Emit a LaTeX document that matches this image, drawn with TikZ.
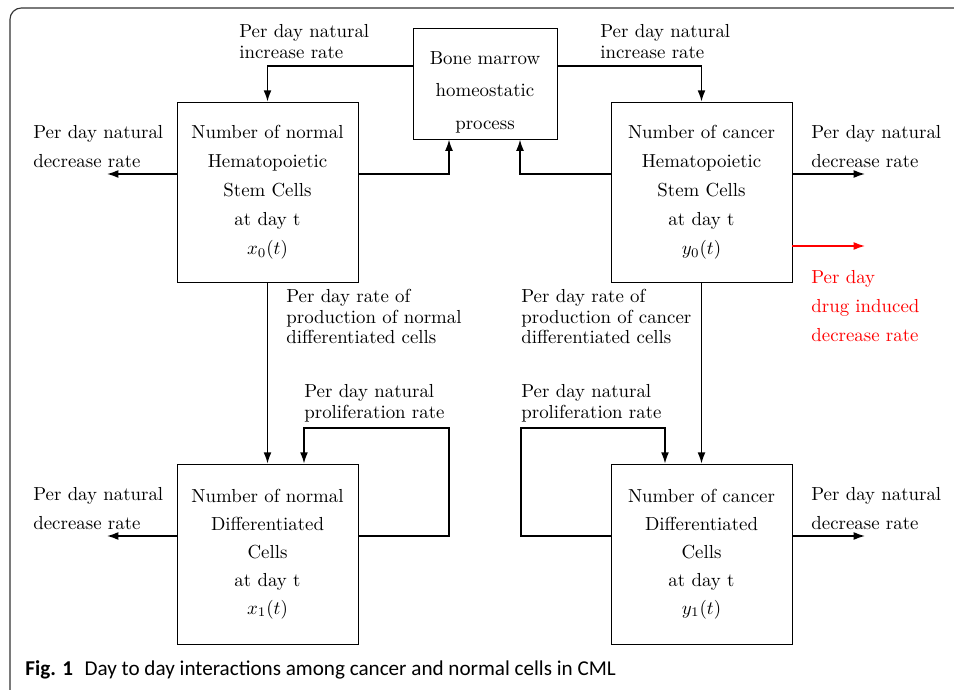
\documentclass[tikz,border=0pt]{standalone}
\usepackage{fontspec}
\newfontfamily\capfont{Carlito}
\usetikzlibrary{arrows.meta,positioning,calc}

\begin{document}
\begin{tikzpicture}[x=0.53pt,y=-0.53pt,
    cellbox/.style={draw,thin,align=center,minimum width=95.9pt,minimum height=95.4pt,font=\fontsize{10pt}{15.4pt}\selectfont},
    tight/.style={align=left,inner sep=0pt,anchor=west,font=\fontsize{10pt}{11.1pt}\selectfont},
    loose/.style={align=left,inner sep=0pt,anchor=west,font=\fontsize{10pt}{15.4pt}\selectfont},
    flow/.style={-{Latex[length=6pt,width=4.2pt]},line width=0.8pt}]
  \useasboundingbox (0,0) rectangle (954,690);
  % frame
  \draw[line width=0.6pt,black!80,rounded corners=6pt] (10,690) -- (10,8) -- (954,8);

  % boxes
  \node[draw,thin,align=center,minimum width=76.3pt,minimum height=57.2pt,font=\fontsize{10pt}{17.2pt}\selectfont] (bm) at (485,84) {\rule{0pt}{15.5pt}Bone marrow\\homeostatic\\process};
  \node[cellbox] (nhsc) at (267.5,192) {Number of normal\\Hematopoietic\\Stem Cells\\at day t\\$x_0(t)$};
  \node[cellbox] (chsc) at (701.5,192) {Number of cancer\\Hematopoietic\\Stem Cells\\at day t\\$y_0(t)$};
  \node[cellbox,font=\fontsize{10pt}{14.8pt}\selectfont] (ndc) at (267.5,554) {Number of normal\\Differentiated\\Cells\\at day t\\$x_1(t)$};
  \node[cellbox,font=\fontsize{10pt}{14.8pt}\selectfont] (cdc) at (701.5,554) {Number of cancer\\Differentiated\\Cells\\at day t\\$y_1(t)$};

  % free ends
  \coordinate (nhscout) at (107,174);
  \coordinate (chscout) at (865,174);
  \coordinate (drugout) at (865,246);
  \coordinate (ndcout) at (107,536);
  \coordinate (cdcout) at (865,536);

  % connectors
  \draw[flow] (bm.west |- 0,66) -| (nhsc.north);
  \draw[flow] (bm.east |- 0,66) -| (chsc.north);
  \draw[flow] (nhsc.east |- 0,174) -| (bm.south -| 449,0);
  \draw[flow] (chsc.west |- 0,174) -| (bm.south -| 520,0);
  \draw[flow] (nhsc.west |- 0,174) -- (nhscout);
  \draw[flow] (chsc.east |- 0,174) -- (chscout);
  \draw[flow,red] (chsc.east |- 0,246) -- (drugout);
  \draw[flow] (nhsc.south) -- (ndc.north);
  \draw[flow] (chsc.south) -- (cdc.north);
  \draw[flow] (ndc.east |- 0,536) -| (449,428) -| (ndc.north -| 304,0);
  \draw[flow] (cdc.west |- 0,536) -| (521,428) -| (cdc.north -| 665,0);
  \draw[flow] (ndc.west |- 0,536) -- (ndcout);
  \draw[flow] (cdc.east |- 0,536) -- (cdcout);

  % labels
  \node[tight] (lninc) at (239,41.5) {Per day natural\\increase rate};
  \node[tight] (lcinc) at (600,41.5) {Per day natural\\increase rate};
  \node[loose] (lnhdec) at (33,146.5) {Per day natural\\decrease rate};
  \node[loose] (lchdec) at (811,146.5) {Per day natural\\decrease rate};
  \node[loose,text=red] (ldrug) at (811,306) {Per day\\drug induced\\decrease rate};
  \node[tight] (lnprod) at (286,316.5) {Per day rate of\\production of normal\\differentiated cells};
  \node[tight] (lcprod) at (521,316.5) {Per day rate of\\production of cancer\\differentiated cells};
  \node[tight] (lnprol) at (304,403.5) {Per day natural\\proliferation rate};
  \node[tight] (lcprol) at (521,403.5) {Per day natural\\proliferation rate};
  \node[loose] (lnddec) at (33,508.5) {Per day natural\\decrease rate};
  \node[loose] (lcddec) at (811,508.5) {Per day natural\\decrease rate};

  % caption
  \node[anchor=west,inner sep=0pt,font=\capfont\fontsize{11.2pt}{13pt}\selectfont] (cap) at (25,670) {\textbf{Fig. 1}\hspace{0.55em}Day to day interactions among cancer and normal cells in CML};
\end{tikzpicture}
\end{document}
